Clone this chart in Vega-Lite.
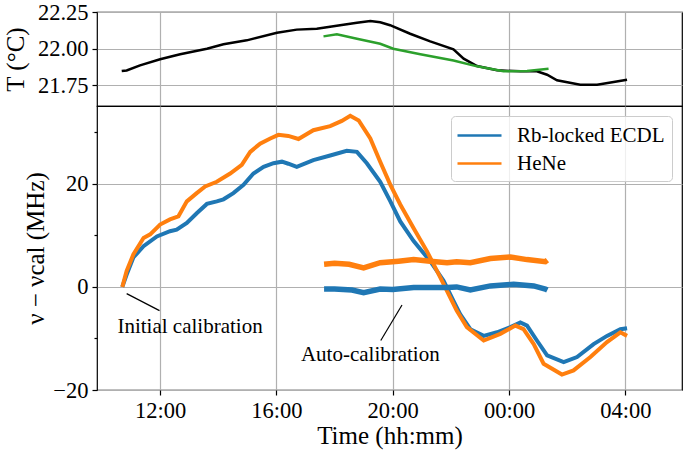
{
  "$schema": "https://vega.github.io/schema/vega-lite/v6.json",
  "padding": {"left": 2, "top": 0, "right": 0, "bottom": 0},
  "spacing": 0,
  "bounds": "flush",
  "resolve": {"scale": {"color": "independent"}},
  "config": {
    "font": "Liberation Serif",
    "view": {"stroke": "black", "strokeWidth": 1.2},
    "style": {
      "guide-title": {"font": "Liberation Serif", "fontWeight": "normal"},
      "guide-label": {"font": "Liberation Serif"}
    },
    "axis": {
      "labelFont": "Liberation Serif", "labelFontSize": 22.5, "labelColor": "black",
      "titleFont": "Liberation Serif", "titleFontSize": 25, "titleFontWeight": "normal", "titleColor": "black",
      "domainColor": "black", "domainWidth": 1.2, "tickColor": "black", "tickWidth": 1.2, "tickSize": 5,
      "gridColor": "#b0b0b0", "gridWidth": 1.2, "gridOpacity": 1, "labelPadding": 4
    },
    "legend": {
      "labelFont": "Liberation Serif", "labelFontSize": 21, "labelColor": "black",
      "symbolType": "M-2,0H2", "symbolStrokeWidth": 2.7, "symbolSize": 484, "symbolOffset": 9,
      "padding": 7, "fillColor": "rgba(255,255,255,0.8)", "strokeColor": "#cccccc", "cornerRadius": 4,
      "labelOffset": 25, "rowPadding": 5, "offset": 10
    }
  },
  "datasets": {
    "temp": [
      {"h": 10.68, "T": 21.848, "sensor": "A"},
      {"h": 10.85, "T": 21.852, "sensor": "A"},
      {"h": 11.31, "T": 21.887, "sensor": "A"},
      {"h": 12.0, "T": 21.928, "sensor": "A"},
      {"h": 12.69, "T": 21.962, "sensor": "A"},
      {"h": 13.61, "T": 22.0, "sensor": "A"},
      {"h": 14.18, "T": 22.03, "sensor": "A"},
      {"h": 14.98, "T": 22.057, "sensor": "A"},
      {"h": 16.02, "T": 22.109, "sensor": "A"},
      {"h": 16.7, "T": 22.13, "sensor": "A"},
      {"h": 17.39, "T": 22.136, "sensor": "A"},
      {"h": 18.19, "T": 22.16, "sensor": "A"},
      {"h": 18.77, "T": 22.177, "sensor": "A"},
      {"h": 19.23, "T": 22.189, "sensor": "A"},
      {"h": 19.57, "T": 22.18, "sensor": "A"},
      {"h": 19.91, "T": 22.16, "sensor": "A"},
      {"h": 20.6, "T": 22.102, "sensor": "A"},
      {"h": 21.29, "T": 22.05, "sensor": "A"},
      {"h": 22.09, "T": 21.996, "sensor": "A"},
      {"h": 22.44, "T": 21.932, "sensor": "A"},
      {"h": 22.9, "T": 21.882, "sensor": "A"},
      {"h": 23.59, "T": 21.853, "sensor": "A"},
      {"h": 24.39, "T": 21.846, "sensor": "A"},
      {"h": 24.96, "T": 21.846, "sensor": "A"},
      {"h": 25.31, "T": 21.823, "sensor": "A"},
      {"h": 25.65, "T": 21.785, "sensor": "A"},
      {"h": 26.45, "T": 21.755, "sensor": "A"},
      {"h": 27.03, "T": 21.755, "sensor": "A"},
      {"h": 27.6, "T": 21.773, "sensor": "A"},
      {"h": 28.06, "T": 21.789, "sensor": "A"},
      {"h": 17.62, "T": 22.084, "sensor": "B"},
      {"h": 18.08, "T": 22.098, "sensor": "B"},
      {"h": 18.77, "T": 22.068, "sensor": "B"},
      {"h": 19.57, "T": 22.034, "sensor": "B"},
      {"h": 20.02, "T": 22.0, "sensor": "B"},
      {"h": 20.95, "T": 21.962, "sensor": "B"},
      {"h": 22.09, "T": 21.92, "sensor": "B"},
      {"h": 22.9, "T": 21.88, "sensor": "B"},
      {"h": 23.81, "T": 21.846, "sensor": "B"},
      {"h": 24.62, "T": 21.848, "sensor": "B"},
      {"h": 25.36, "T": 21.864, "sensor": "B"}
    ],
    "freq": [
      {"h": 10.7, "v": 0, "laser": "Rb-locked ECDL", "run": "main"},
      {"h": 10.85, "v": 2.4, "laser": "Rb-locked ECDL", "run": "main"},
      {"h": 11.08, "v": 5.7, "laser": "Rb-locked ECDL", "run": "main"},
      {"h": 11.43, "v": 7.9, "laser": "Rb-locked ECDL", "run": "main"},
      {"h": 11.89, "v": 9.8, "laser": "Rb-locked ECDL", "run": "main"},
      {"h": 12.34, "v": 10.8, "laser": "Rb-locked ECDL", "run": "main"},
      {"h": 12.57, "v": 11.1, "laser": "Rb-locked ECDL", "run": "main"},
      {"h": 12.92, "v": 12.4, "laser": "Rb-locked ECDL", "run": "main"},
      {"h": 13.26, "v": 14.3, "laser": "Rb-locked ECDL", "run": "main"},
      {"h": 13.61, "v": 16.1, "laser": "Rb-locked ECDL", "run": "main"},
      {"h": 13.95, "v": 16.6, "laser": "Rb-locked ECDL", "run": "main"},
      {"h": 14.18, "v": 17.0, "laser": "Rb-locked ECDL", "run": "main"},
      {"h": 14.52, "v": 18.2, "laser": "Rb-locked ECDL", "run": "main"},
      {"h": 14.87, "v": 19.8, "laser": "Rb-locked ECDL", "run": "main"},
      {"h": 15.21, "v": 22.0, "laser": "Rb-locked ECDL", "run": "main"},
      {"h": 15.56, "v": 23.3, "laser": "Rb-locked ECDL", "run": "main"},
      {"h": 15.9, "v": 24.0, "laser": "Rb-locked ECDL", "run": "main"},
      {"h": 16.19, "v": 24.3, "laser": "Rb-locked ECDL", "run": "main"},
      {"h": 16.41, "v": 23.9, "laser": "Rb-locked ECDL", "run": "main"},
      {"h": 16.7, "v": 23.3, "laser": "Rb-locked ECDL", "run": "main"},
      {"h": 17.27, "v": 24.6, "laser": "Rb-locked ECDL", "run": "main"},
      {"h": 17.85, "v": 25.5, "laser": "Rb-locked ECDL", "run": "main"},
      {"h": 18.42, "v": 26.4, "laser": "Rb-locked ECDL", "run": "main"},
      {"h": 18.77, "v": 26.2, "laser": "Rb-locked ECDL", "run": "main"},
      {"h": 19.11, "v": 24.0, "laser": "Rb-locked ECDL", "run": "main"},
      {"h": 19.57, "v": 20.4, "laser": "Rb-locked ECDL", "run": "main"},
      {"h": 19.92, "v": 16.6, "laser": "Rb-locked ECDL", "run": "main"},
      {"h": 20.26, "v": 12.7, "laser": "Rb-locked ECDL", "run": "main"},
      {"h": 20.72, "v": 8.9, "laser": "Rb-locked ECDL", "run": "main"},
      {"h": 21.29, "v": 5.0, "laser": "Rb-locked ECDL", "run": "main"},
      {"h": 21.75, "v": 1.2, "laser": "Rb-locked ECDL", "run": "main"},
      {"h": 22.09, "v": -2.7, "laser": "Rb-locked ECDL", "run": "main"},
      {"h": 22.32, "v": -5.3, "laser": "Rb-locked ECDL", "run": "main"},
      {"h": 22.67, "v": -8.2, "laser": "Rb-locked ECDL", "run": "main"},
      {"h": 23.13, "v": -9.5, "laser": "Rb-locked ECDL", "run": "main"},
      {"h": 23.59, "v": -8.8, "laser": "Rb-locked ECDL", "run": "main"},
      {"h": 24.05, "v": -7.8, "laser": "Rb-locked ECDL", "run": "main"},
      {"h": 24.39, "v": -6.9, "laser": "Rb-locked ECDL", "run": "main"},
      {"h": 24.62, "v": -7.5, "laser": "Rb-locked ECDL", "run": "main"},
      {"h": 24.96, "v": -10.4, "laser": "Rb-locked ECDL", "run": "main"},
      {"h": 25.31, "v": -13.3, "laser": "Rb-locked ECDL", "run": "main"},
      {"h": 25.88, "v": -14.6, "laser": "Rb-locked ECDL", "run": "main"},
      {"h": 26.34, "v": -13.6, "laser": "Rb-locked ECDL", "run": "main"},
      {"h": 26.91, "v": -11.1, "laser": "Rb-locked ECDL", "run": "main"},
      {"h": 27.37, "v": -9.5, "laser": "Rb-locked ECDL", "run": "main"},
      {"h": 27.83, "v": -8.2, "laser": "Rb-locked ECDL", "run": "main"},
      {"h": 28.06, "v": -8.0, "laser": "Rb-locked ECDL", "run": "main"},
      {"h": 10.7, "v": 0, "laser": "HeNe", "run": "main"},
      {"h": 10.85, "v": 3.1, "laser": "HeNe", "run": "main"},
      {"h": 11.08, "v": 6.3, "laser": "HeNe", "run": "main"},
      {"h": 11.43, "v": 9.5, "laser": "HeNe", "run": "main"},
      {"h": 11.66, "v": 10.2, "laser": "HeNe", "run": "main"},
      {"h": 12.0, "v": 12.1, "laser": "HeNe", "run": "main"},
      {"h": 12.34, "v": 13.1, "laser": "HeNe", "run": "main"},
      {"h": 12.63, "v": 13.7, "laser": "HeNe", "run": "main"},
      {"h": 12.92, "v": 16.6, "laser": "HeNe", "run": "main"},
      {"h": 13.26, "v": 18.2, "laser": "HeNe", "run": "main"},
      {"h": 13.55, "v": 19.5, "laser": "HeNe", "run": "main"},
      {"h": 13.95, "v": 20.4, "laser": "HeNe", "run": "main"},
      {"h": 14.41, "v": 22.0, "laser": "HeNe", "run": "main"},
      {"h": 14.81, "v": 23.7, "laser": "HeNe", "run": "main"},
      {"h": 15.1, "v": 26.2, "laser": "HeNe", "run": "main"},
      {"h": 15.44, "v": 27.8, "laser": "HeNe", "run": "main"},
      {"h": 15.79, "v": 28.8, "laser": "HeNe", "run": "main"},
      {"h": 16.07, "v": 29.5, "laser": "HeNe", "run": "main"},
      {"h": 16.41, "v": 29.3, "laser": "HeNe", "run": "main"},
      {"h": 16.76, "v": 28.7, "laser": "HeNe", "run": "main"},
      {"h": 17.27, "v": 30.4, "laser": "HeNe", "run": "main"},
      {"h": 17.85, "v": 31.2, "laser": "HeNe", "run": "main"},
      {"h": 18.25, "v": 32.2, "laser": "HeNe", "run": "main"},
      {"h": 18.54, "v": 33.2, "laser": "HeNe", "run": "main"},
      {"h": 18.83, "v": 32.3, "laser": "HeNe", "run": "main"},
      {"h": 19.23, "v": 28.8, "laser": "HeNe", "run": "main"},
      {"h": 19.57, "v": 24.3, "laser": "HeNe", "run": "main"},
      {"h": 19.92, "v": 19.8, "laser": "HeNe", "run": "main"},
      {"h": 20.26, "v": 16.0, "laser": "HeNe", "run": "main"},
      {"h": 20.72, "v": 11.4, "laser": "HeNe", "run": "main"},
      {"h": 21.18, "v": 6.9, "laser": "HeNe", "run": "main"},
      {"h": 21.64, "v": 1.8, "laser": "HeNe", "run": "main"},
      {"h": 21.98, "v": -2.1, "laser": "HeNe", "run": "main"},
      {"h": 22.2, "v": -4.6, "laser": "HeNe", "run": "main"},
      {"h": 22.55, "v": -7.8, "laser": "HeNe", "run": "main"},
      {"h": 23.13, "v": -10.4, "laser": "HeNe", "run": "main"},
      {"h": 23.7, "v": -9.1, "laser": "HeNe", "run": "main"},
      {"h": 24.22, "v": -7.5, "laser": "HeNe", "run": "main"},
      {"h": 24.5, "v": -8.2, "laser": "HeNe", "run": "main"},
      {"h": 24.85, "v": -11.1, "laser": "HeNe", "run": "main"},
      {"h": 25.19, "v": -14.9, "laser": "HeNe", "run": "main"},
      {"h": 25.82, "v": -17.0, "laser": "HeNe", "run": "main"},
      {"h": 26.22, "v": -16.2, "laser": "HeNe", "run": "main"},
      {"h": 26.8, "v": -13.6, "laser": "HeNe", "run": "main"},
      {"h": 27.37, "v": -10.7, "laser": "HeNe", "run": "main"},
      {"h": 27.83, "v": -8.8, "laser": "HeNe", "run": "main"},
      {"h": 28.06, "v": -9.5, "laser": "HeNe", "run": "main"},
      {"h": 17.64, "v": -0.4, "laser": "Rb-locked ECDL", "run": "auto"},
      {"h": 18.0, "v": -0.4, "laser": "Rb-locked ECDL", "run": "auto"},
      {"h": 18.6, "v": -0.6, "laser": "Rb-locked ECDL", "run": "auto"},
      {"h": 19.0, "v": -1.1, "laser": "Rb-locked ECDL", "run": "auto"},
      {"h": 19.57, "v": -0.4, "laser": "Rb-locked ECDL", "run": "auto"},
      {"h": 20.0, "v": -0.5, "laser": "Rb-locked ECDL", "run": "auto"},
      {"h": 20.72, "v": -0.1, "laser": "Rb-locked ECDL", "run": "auto"},
      {"h": 21.3, "v": -0.1, "laser": "Rb-locked ECDL", "run": "auto"},
      {"h": 21.87, "v": -0.1, "laser": "Rb-locked ECDL", "run": "auto"},
      {"h": 22.2, "v": 0.0, "laser": "Rb-locked ECDL", "run": "auto"},
      {"h": 22.67, "v": -0.6, "laser": "Rb-locked ECDL", "run": "auto"},
      {"h": 23.36, "v": 0.2, "laser": "Rb-locked ECDL", "run": "auto"},
      {"h": 24.16, "v": 0.5, "laser": "Rb-locked ECDL", "run": "auto"},
      {"h": 24.85, "v": 0.2, "laser": "Rb-locked ECDL", "run": "auto"},
      {"h": 25.25, "v": -0.4, "laser": "Rb-locked ECDL", "run": "auto"},
      {"h": 25.32, "v": -0.6, "laser": "Rb-locked ECDL", "run": "auto"},
      {"h": 17.64, "v": 4.4, "laser": "HeNe", "run": "auto"},
      {"h": 18.0, "v": 4.6, "laser": "HeNe", "run": "auto"},
      {"h": 18.5, "v": 4.4, "laser": "HeNe", "run": "auto"},
      {"h": 19.0, "v": 3.7, "laser": "HeNe", "run": "auto"},
      {"h": 19.57, "v": 4.7, "laser": "HeNe", "run": "auto"},
      {"h": 20.2, "v": 5.0, "laser": "HeNe", "run": "auto"},
      {"h": 20.72, "v": 5.3, "laser": "HeNe", "run": "auto"},
      {"h": 21.29, "v": 5.0, "laser": "HeNe", "run": "auto"},
      {"h": 21.87, "v": 4.7, "laser": "HeNe", "run": "auto"},
      {"h": 22.2, "v": 4.9, "laser": "HeNe", "run": "auto"},
      {"h": 22.67, "v": 4.7, "laser": "HeNe", "run": "auto"},
      {"h": 23.36, "v": 5.5, "laser": "HeNe", "run": "auto"},
      {"h": 24.05, "v": 5.8, "laser": "HeNe", "run": "auto"},
      {"h": 24.62, "v": 5.3, "laser": "HeNe", "run": "auto"},
      {"h": 25.25, "v": 4.9, "laser": "HeNe", "run": "auto"},
      {"h": 25.32, "v": 5.2, "laser": "HeNe", "run": "auto"}
    ],
    "pointers": [
      {"h": 10.85, "v": -1.3, "h2": 11.98, "v2": -4.6},
      {"h": 20.32, "v": -3.5, "h2": 19.59, "v2": -10.4}
    ],
    "labels": [
      {"h": 13.03, "v": -7.7, "text": "Initial calibration"},
      {"h": 19.23, "v": -13.3, "text": "Auto-calibration"}
    ]
  },
  "vconcat": [
    {
      "width": 585,
      "height": 94,
      "data": {"name": "temp"},
      "mark": {"type": "line", "strokeWidth": 2.5},
      "encoding": {
        "x": {"field": "h", "type": "quantitative", "scale": {"domain": [9.83, 29.95], "nice": false, "zero": false},
              "axis": {"values": [12, 16, 20, 24, 28], "labels": false, "ticks": false, "domain": false, "title": null, "tickSize": 0, "labelPadding": 0}},
        "y": {"field": "T", "type": "quantitative", "scale": {"domain": [21.61, 22.25], "nice": false, "zero": false},
              "axis": {"values": [21.75, 22.0, 22.25], "format": ".2f", "title": "T (°C)", "domain": false, "titleFont": "Liberation Serif", "titlePadding": 9}},
        "color": {"field": "sensor", "type": "nominal", "scale": {"domain": ["A", "B"], "range": ["black", "#2ca02c"]}, "legend": null}
      }
    },
    {
      "width": 585,
      "height": 284,
      "resolve": {"axis": {"y": "independent"}},
      "layer": [
        {
          "data": {"name": "freq"},
          "mark": {"type": "line"},
          "encoding": {
            "x": {"field": "h", "type": "quantitative", "scale": {"domain": [9.83, 29.95], "nice": false, "zero": false},
                  "axis": {"values": [12, 16, 20, 24, 28], "title": "Time (hh:mm)", "domain": false, "titlePadding": 2, "titleFont": "Liberation Serif",
                           "labelExpr": "(datum.value % 24 < 10 ? '0' : '') + (datum.value % 24) + ':00'"}},
            "y": {"field": "v", "type": "quantitative", "scale": {"domain": [-20, 35.1], "nice": false, "zero": false},
                  "axis": {"values": [-20, 0, 20], "title": "ν − νcal  (MHz)", "domain": false, "orient": "left", "titleFont": "Liberation Serif"}},
            "color": {"field": "laser", "type": "nominal", "scale": {"domain": ["Rb-locked ECDL", "HeNe"], "range": ["#1f77b4", "#ff7f0e"]},
                      "legend": {"title": null, "orient": "top-right", "labelFont": "Liberation Serif"}},
            "strokeWidth": {"field": "run", "type": "nominal", "scale": {"domain": ["main", "auto"], "range": [4, 5.5]}, "legend": null},
            "detail": {"field": "run"}
          }
        },
        {
          "data": {"name": "pointers"},
          "mark": {"type": "rule", "color": "black", "strokeWidth": 1.2},
          "encoding": {
            "x": {"field": "h", "type": "quantitative"},
            "y": {"field": "v", "type": "quantitative",
                  "axis": {"values": [-10, 10, 30], "labels": false, "grid": false, "domain": false, "title": null, "tickSize": 3, "orient": "left"}},
            "x2": {"field": "h2"},
            "y2": {"field": "v2"}
          }
        },
        {
          "data": {"name": "labels"},
          "mark": {"type": "text", "font": "Liberation Serif", "fontSize": 21, "align": "center", "baseline": "middle", "color": "black"},
          "encoding": {
            "x": {"field": "h", "type": "quantitative"},
            "y": {"field": "v", "type": "quantitative", "axis": null},
            "text": {"field": "text"}
          }
        }
      ]
    }
  ]
}
